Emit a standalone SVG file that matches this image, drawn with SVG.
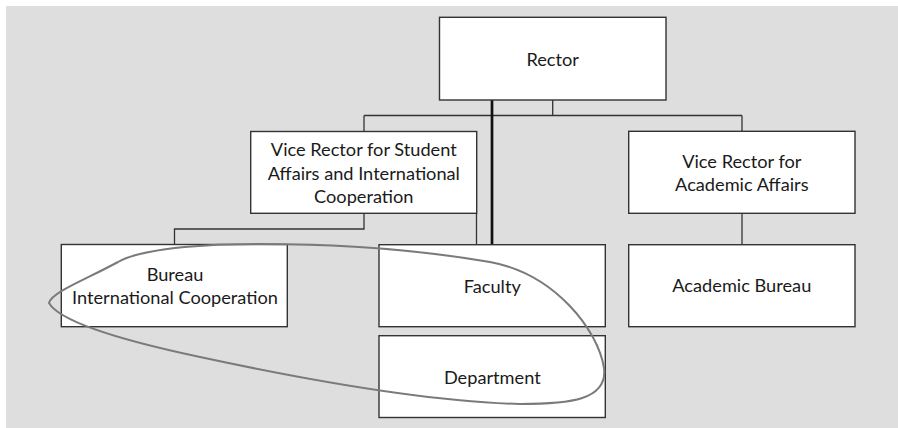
<svg xmlns="http://www.w3.org/2000/svg" width="898" height="428" viewBox="0 0 898 428">
  <style>
    .box { fill: #ffffff; stroke: #333333; stroke-width: 1.4; }
    .lbl { font-family: Lato, "Open Sans", "Liberation Sans", sans-serif; font-size: 18.2px; fill: #1a1a1a; text-anchor: middle; }
    .thin { fill: none; stroke: #333333; stroke-width: 1.3; }
    .thick { fill: none; stroke: #111111; stroke-width: 2.7; }
    .loop { fill: none; stroke: #7a7a7a; stroke-width: 2; }
  </style>
  <rect x="6" y="6" width="892" height="422" fill="#dedede"/>

  <g id="connectors">
    <path class="thin" d="M552.7 100 V115.5 M364 115.5 H742 M364 115.5 V131.5 M742 115.5 V131.5"/>
    <path class="thin" d="M364 213.3 V229 H174.5 V244.5"/>
    <path class="thin" d="M476.5 213.3 V244.7"/>
    <path class="thin" d="M742 213.3 V244.7"/>
    <path class="thick" d="M492 100 V244.7"/>
  </g>

  <g id="rector">
    <rect class="box" x="439.5" y="17.3" width="226.5" height="82.7"/>
    <text class="lbl" x="552.7" y="66">Rector</text>
  </g>
  <g id="vr-student">
    <rect class="box" x="250.7" y="131.5" width="226" height="81.8"/>
    <text class="lbl" x="363.8" y="156">Vice Rector for Student</text>
    <text class="lbl" x="363.8" y="179.7">Affairs and International</text>
    <text class="lbl" x="363.8" y="203.4">Cooperation</text>
  </g>
  <g id="vr-academic">
    <rect class="box" x="628.7" y="131.3" width="226.3" height="82"/>
    <text class="lbl" x="741.8" y="167.7">Vice Rector for</text>
    <text class="lbl" x="741.8" y="191.2">Academic Affairs</text>
  </g>
  <g id="bureau-ic">
    <rect class="box" x="61.3" y="244.5" width="226" height="82.2"/>
    <text class="lbl" x="175" y="281">Bureau</text>
    <text class="lbl" x="175" y="304.3">International Cooperation</text>
  </g>
  <g id="faculty">
    <rect class="box" x="379" y="244.7" width="226.3" height="82"/>
    <text class="lbl" x="492.3" y="293.3">Faculty</text>
  </g>
  <g id="academic-bureau">
    <rect class="box" x="628.7" y="244.7" width="226.3" height="82"/>
    <text class="lbl" x="741.8" y="292.3">Academic Bureau</text>
  </g>
  <g id="department">
    <rect class="box" x="379" y="335.7" width="226.3" height="81.8"/>
    <text class="lbl" x="492.3" y="384">Department</text>
  </g>

  <g id="highlight">
    <path class="loop" d="M49 303 C52 292 85 280 118 262 C135 252 180 244 260 244 C340 244 420 250 490 262 C555 274 598 330 604 368 C608 400 570 404 520 404 C440 402 330 385 200 357 C120 340 60 322 49 303 Z"/>
  </g>
</svg>
